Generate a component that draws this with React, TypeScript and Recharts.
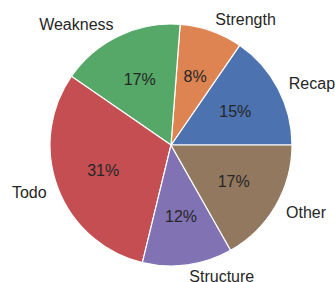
import { Cell, Pie, PieChart } from "recharts"

const names = ["Recap", "Strength", "Weakness", "Todo", "Structure", "Other"]
const values = [15.4, 8.4, 16.6, 30.8, 12.0, 16.8]
const colors = ["#4c72b0", "#dd8452", "#55a868", "#c44e52", "#8172b3", "#937860"]

const data = names.map((name, i) => ({ name, value: values[i] }))

const RAD = Math.PI / 180
const font = "Arial, 'Liberation Sans', sans-serif"

function renderLabel(props: any) {
  const { cx, cy, midAngle, outerRadius, percent, name } = props
  const cos = Math.cos(-midAngle * RAD)
  const sin = Math.sin(-midAngle * RAD)
  const lx = cx + outerRadius * 1.1 * cos
  const ly = cy + outerRadius * 1.1 * sin
  const px = cx + outerRadius * 0.6 * cos
  const py = cy + outerRadius * 0.6 * sin
  return (
    <g>
      <text
        x={lx}
        y={ly}
        fill="#262626"
        fontSize={16}
        fontFamily={font}
        textAnchor={cos >= 0 ? "start" : "end"}
        dominantBaseline="central"
      >
        {name}
      </text>
      <text
        x={px}
        y={py}
        fill="#262626"
        fontSize={16}
        fontFamily={font}
        textAnchor="middle"
        dominantBaseline="central"
      >
        {`${(percent * 100).toFixed(0)}%`}
      </text>
    </g>
  )
}

export default function App() {
  return (
    <div style={{ position: "fixed", left: 0, top: 0, width: 335, height: 282, background: "#fff" }}>
      <PieChart width={335} height={282} margin={{ top: 0, right: 0, bottom: 0, left: 0 }}>
        <Pie
          data={data}
          dataKey="value"
          cx={171}
          cy={145}
          outerRadius={121}
          startAngle={0}
          endAngle={360}
          stroke="#ffffff"
          strokeWidth={1.2}
          label={renderLabel}
          labelLine={false}
          isAnimationActive={false}
        >
          {data.map((entry, index) => (
            <Cell key={`cell-${index}`} fill={colors[index]} />
          ))}
        </Pie>
      </PieChart>
    </div>
  )
}
